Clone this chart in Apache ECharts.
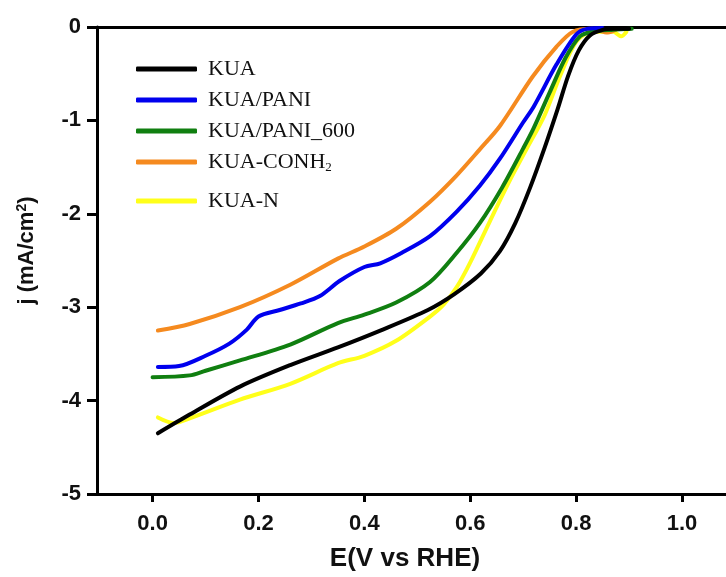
<!DOCTYPE html>
<html>
<head>
<meta charset="utf-8">
<script src="https://cdn.jsdelivr.net/npm/echarts@6/dist/echarts.min.js"></script>
<style>
html,body{margin:0;padding:0;overflow:hidden;background:#fff;}
#chart{width:760px;height:577px;}
</style>
</head>
<body>
<div id="chart"></div>
<script>
const seriesNames = ['KUA', 'KUA/PANI', 'KUA/PANI_600', 'KUA-CONH2', 'KUA-N'];
const xTickValues = [0.0, 0.2, 0.4, 0.6, 0.8, 1.0];

const E_KUA = [0.01, 0.07, 0.165, 0.26, 0.35, 0.43, 0.52, 0.57, 0.62, 0.656, 0.685, 0.713, 0.74, 0.765, 0.785, 0.805, 0.826, 0.85, 0.87, 0.90];
const J_KUA = [-4.35, -4.15, -3.85, -3.62, -3.43, -3.25, -3.03, -2.86, -2.64, -2.40, -2.10, -1.72, -1.30, -0.88, -0.52, -0.25, -0.09, -0.03, -0.02, -0.02];

const E_PANI = [0.01, 0.05, 0.10, 0.145, 0.178, 0.20, 0.24, 0.28, 0.316, 0.353, 0.40, 0.43, 0.47, 0.524, 0.574, 0.618, 0.656, 0.70, 0.72, 0.763, 0.80, 0.82, 0.85];
const J_PANI = [-3.64, -3.63, -3.52, -3.39, -3.24, -3.10, -3.03, -2.96, -2.88, -2.72, -2.57, -2.53, -2.42, -2.24, -1.98, -1.70, -1.41, -1.02, -0.85, -0.40, -0.08, -0.02, -0.01];

const E_PANI600 = [0.0, 0.07, 0.10, 0.165, 0.26, 0.35, 0.40, 0.46, 0.524, 0.574, 0.618, 0.66, 0.70, 0.72, 0.75, 0.78, 0.807, 0.83, 0.87, 0.905];
const J_PANI600 = [-3.75, -3.73, -3.68, -3.57, -3.40, -3.17, -3.08, -2.95, -2.73, -2.42, -2.10, -1.72, -1.30, -1.08, -0.70, -0.33, -0.10, -0.05, -0.03, -0.02];

const E_CONH2 = [0.01, 0.07, 0.165, 0.26, 0.35, 0.40, 0.46, 0.524, 0.574, 0.618, 0.656, 0.718, 0.763, 0.794, 0.83, 0.86, 0.875];
const J_CONH2 = [-3.25, -3.18, -3.00, -2.76, -2.48, -2.35, -2.16, -1.87, -1.59, -1.31, -1.06, -0.53, -0.21, -0.05, -0.02, -0.06, -0.03];

const E_N = [0.01, 0.04, 0.07, 0.165, 0.26, 0.35, 0.40, 0.46, 0.524, 0.55, 0.575, 0.60, 0.637, 0.675, 0.707, 0.74, 0.77, 0.80, 0.83, 0.87, 0.885, 0.895];
const J_N = [-4.18, -4.24, -4.19, -3.99, -3.82, -3.60, -3.52, -3.36, -3.10, -2.97, -2.78, -2.52, -2.08, -1.64, -1.30, -0.95, -0.52, -0.16, -0.05, -0.05, -0.10, -0.05];

const colors = ['#000000', '#0000ee', '#107f10', '#f58a1f', '#ffff1a'];

function pairs(xs, ys) { return xs.map((x, i) => [x, ys[i]]); }
const dataSets = [
  pairs(E_KUA, J_KUA),
  pairs(E_PANI, J_PANI),
  pairs(E_PANI600, J_PANI600),
  pairs(E_CONH2, J_CONH2),
  pairs(E_N, J_N)
];

const chart = echarts.init(document.getElementById('chart'), null, {renderer: 'canvas'});
const legendText = {
  fontFamily: '"Liberation Serif", "Times New Roman", serif',
  fontSize: 22,
  color: '#111',
  lineHeight: 22,
  padding: [0, 0, 0, 6],
  rich: {
    sub: {fontFamily: '"Liberation Serif", serif', fontSize: 13, color: '#111', padding: [12, 0, 0, 0]}
  }
};
const legendFormatter = function (name) {
  if (name === 'KUA-CONH2') return 'KUA-CONH{sub|2}';
  return name;
};

const option = {
  animation: false,
  backgroundColor: '#fff',
  color: colors,
  grid: {left: 97, top: 27, width: 638, height: 471, containLabel: false},
  legend: [{
    data: seriesNames.slice(0, 4),
    orient: 'vertical',
    left: 131,
    top: 53,
    itemWidth: 61,
    itemHeight: 5,
    itemGap: 9,
    icon: 'roundRect',
    textStyle: legendText,
    formatter: legendFormatter
  }, {
    data: [seriesNames[4]],
    orient: 'vertical',
    left: 131,
    top: 185,
    itemWidth: 61,
    itemHeight: 5,
    icon: 'roundRect',
    textStyle: legendText,
    formatter: legendFormatter
  }],
  xAxis: [{
    type: 'value',
    min: -0.105,
    max: 1.1,
    position: 'bottom',
    axisLine: {show: true, onZero: false, lineStyle: {color: '#000', width: 3}},
    axisTick: {show: true, inside: false, length: 8, lineStyle: {color: '#000', width: 3}, customValues: xTickValues},
    axisLabel: {
      customValues: xTickValues,
      margin: 19,
      fontFamily: 'Arial, "Liberation Sans", sans-serif',
      fontWeight: 'bold',
      fontSize: 22,
      color: '#111',
      formatter: v => v.toFixed(1)
    },
    splitLine: {show: false},
    name: 'E(V vs RHE)',
    nameLocation: 'middle',
    nameGap: 52,
    nameTextStyle: {
      fontFamily: 'Arial, "Liberation Sans", sans-serif',
      fontWeight: 'bold',
      fontSize: 26,
      color: '#111',
      padding: [0, 22, 0, 0]
    }
  }, {
    type: 'value',
    min: -0.105,
    max: 1.1,
    position: 'top',
    axisLine: {show: true, onZero: false, lineStyle: {color: '#000', width: 3}},
    axisTick: {show: false},
    axisLabel: {show: false},
    splitLine: {show: false}
  }],
  yAxis: {
    type: 'value',
    min: -5,
    max: 0,
    interval: 1,
    axisLine: {show: true, onZero: false, lineStyle: {color: '#000', width: 3}},
    axisTick: {show: true, inside: false, length: 10, lineStyle: {color: '#000', width: 3}},
    axisLabel: {
      margin: 16,
      fontFamily: 'Arial, "Liberation Sans", sans-serif',
      fontWeight: 'bold',
      fontSize: 22,
      color: '#111'
    },
    splitLine: {show: false},
    name: 'j (mA/cm{sup|2})',
    nameLocation: 'middle',
    nameGap: 58,
    nameRotate: 90,
    nameTextStyle: {
      fontFamily: 'Arial, "Liberation Sans", sans-serif',
      fontWeight: 'bold',
      fontSize: 22,
      color: '#111',
      padding: [0, 0, 0, 20],
      rich: {
        sup: {fontFamily: 'Arial, "Liberation Sans", sans-serif', fontWeight: 'bold', fontSize: 14, color: '#111', padding: [0, 0, 10, 0]}
      }
    }
  },
  series: seriesNames.map((name, i) => ({
    name: name,
    type: 'line',
    xAxisIndex: 0,
    data: dataSets[i],
    smooth: 0.3,
    showSymbol: false,
    symbol: 'none',
    lineStyle: {width: 4, color: colors[i], cap: 'round', join: 'round'},
    itemStyle: {color: colors[i]},
    z: 10 - i
  }))
};
chart.setOption(option);
</script>
</body>
</html>
